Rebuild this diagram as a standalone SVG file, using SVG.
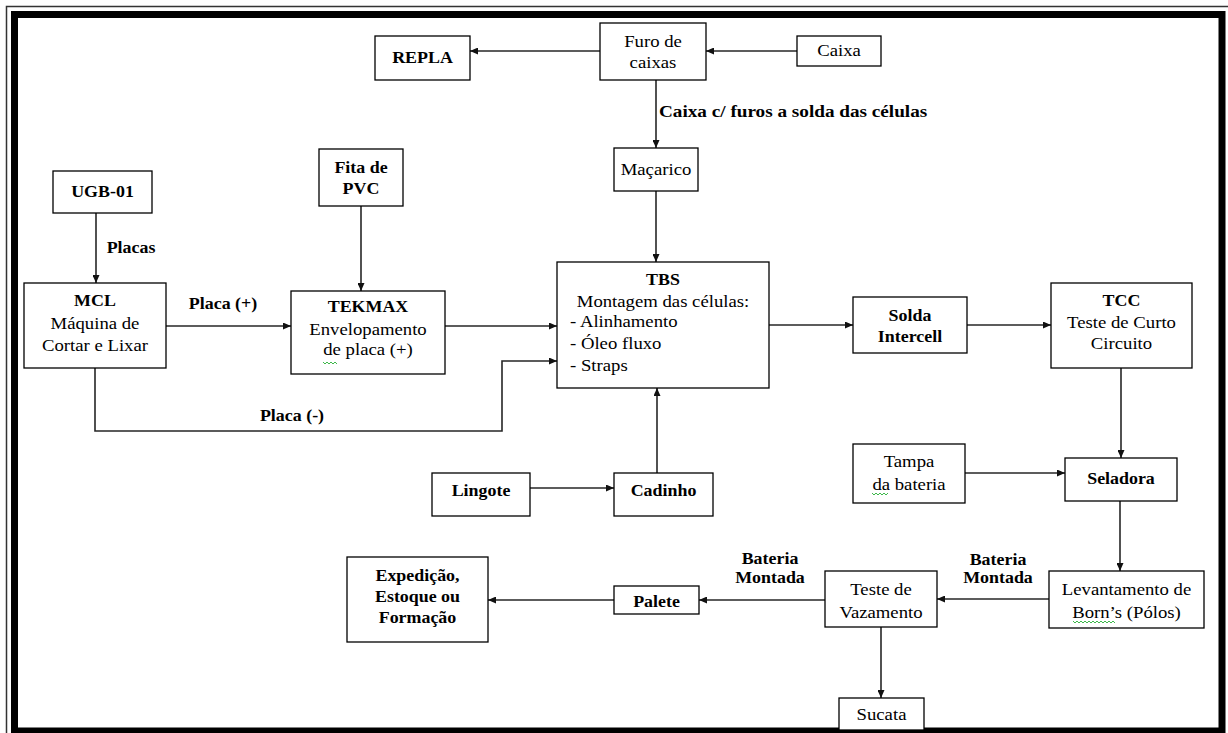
<svg xmlns="http://www.w3.org/2000/svg" width="1228" height="733" viewBox="0 0 1228 733">
  <style>
    text { font-family: "Liberation Serif", "Times New Roman", "DejaVu Serif", serif; font-size: 16px; fill: #000; text-anchor: middle; }
    .b { font-weight: bold; }
    .lft { text-anchor: start; }
    .box { fill: #fff; stroke: #000; stroke-width: 1.3; }
    .wire { fill: none; stroke: #262626; stroke-width: 1.6; }
    .squiggle { fill: none; stroke: #3db84a; stroke-width: 1; }
  </style>
  <defs>
    <marker id="arrow" markerUnits="userSpaceOnUse" markerWidth="8" markerHeight="7" refX="8" refY="3.5" orient="auto">
      <path d="M0,0 L8,3.5 L0,7 z" fill="#111"/>
    </marker>
  </defs>

  <rect x="0" y="0" width="1228" height="733" fill="#fff"/>

  <!-- page border: thin outer rule and heavy inner frame -->
  <path d="M6.5,733 V6.5 H1228" fill="none" stroke="#333" stroke-width="1.5"/>
  <rect x="14.5" y="14.5" width="1207.5" height="716.5" fill="none" stroke="#000" stroke-width="7"/>

  <!-- connectors -->
  <g id="connectors">
    <path class="wire" d="M797,51 H706" marker-end="url(#arrow)"/>
    <path class="wire" d="M600,51 H470" marker-end="url(#arrow)"/>
    <path class="wire" d="M656,80 V148" marker-end="url(#arrow)"/>
    <path class="wire" d="M656,191 V262" marker-end="url(#arrow)"/>
    <path class="wire" d="M96,213 V283" marker-end="url(#arrow)"/>
    <path class="wire" d="M361,206 V291" marker-end="url(#arrow)"/>
    <path class="wire" d="M166,326 H291" marker-end="url(#arrow)"/>
    <path class="wire" d="M445,326 H557" marker-end="url(#arrow)"/>
    <path class="wire" d="M95,361 V431 H502 V361 H557" marker-end="url(#arrow)"/>
    <path class="wire" d="M657,473 V388" marker-end="url(#arrow)"/>
    <path class="wire" d="M530,488 H614" marker-end="url(#arrow)"/>
    <path class="wire" d="M769,325 H853" marker-end="url(#arrow)"/>
    <path class="wire" d="M967,325 H1051" marker-end="url(#arrow)"/>
    <path class="wire" d="M1121,361 V458" marker-end="url(#arrow)"/>
    <path class="wire" d="M965,473 H1065" marker-end="url(#arrow)"/>
    <path class="wire" d="M1120,501 V571" marker-end="url(#arrow)"/>
    <path class="wire" d="M1049,599 H937" marker-end="url(#arrow)"/>
    <path class="wire" d="M825,600 H699" marker-end="url(#arrow)"/>
    <path class="wire" d="M614,600 H488" marker-end="url(#arrow)"/>
    <path class="wire" d="M881,627 V698" marker-end="url(#arrow)"/>
  </g>

  <!-- connector labels (type is set slightly wide, as in the printed chart) -->
  <g id="labels">
    <text class="b lft" transform="translate(659 0) scale(1.2 1)" x="0" y="117">Caixa c/ furos a solda das células</text>
    <text class="b" transform="translate(131 0) scale(1.12 1)" x="0" y="253">Placas</text>
    <text class="b" transform="translate(223 0) scale(1.12 1)" x="0" y="309">Placa (+)</text>
    <text class="b" transform="translate(292 0) scale(1.12 1)" x="0" y="421">Placa (-)</text>
    <text class="b" transform="translate(770 0) scale(1.12 1)"><tspan x="0" y="564">Bateria</tspan><tspan x="0" y="583">Montada</tspan></text>
    <text class="b" transform="translate(998 0) scale(1.12 1)"><tspan x="0" y="565">Bateria</tspan><tspan x="0" y="583">Montada</tspan></text>
  </g>

  <!-- nodes -->
  <g id="repla">
    <rect class="box" x="375" y="36" width="95" height="44"/>
    <text class="b" transform="translate(422.5 0) scale(1.12 1)" x="0" y="63">REPLA</text>
  </g>
  <g id="furo-caixas">
    <rect class="box" x="600" y="23" width="106" height="57"/>
    <text transform="translate(653 0) scale(1.17 1)"><tspan x="0" y="47">Furo de</tspan><tspan x="0" y="68">caixas</tspan></text>
  </g>
  <g id="caixa">
    <rect class="box" x="797" y="36" width="84" height="30"/>
    <text transform="translate(839 0) scale(1.17 1)" x="0" y="56">Caixa</text>
  </g>
  <g id="macarico">
    <rect class="box" x="614" y="148" width="84" height="43"/>
    <text transform="translate(656 0) scale(1.17 1)" x="0" y="175">Maçarico</text>
  </g>
  <g id="ugb01">
    <rect class="box" x="53" y="171" width="99" height="42"/>
    <text class="b" transform="translate(102.5 0) scale(1.12 1)" x="0" y="197">UGB-01</text>
  </g>
  <g id="fita-pvc">
    <rect class="box" x="319" y="149" width="84" height="57"/>
    <text class="b" transform="translate(361 0) scale(1.12 1)"><tspan x="0" y="173">Fita de</tspan><tspan x="0" y="194">PVC</tspan></text>
  </g>
  <g id="mcl">
    <rect class="box" x="24" y="283" width="142" height="85"/>
    <text class="b" transform="translate(95 0) scale(1.12 1)" x="0" y="306">MCL</text>
    <text transform="translate(95 0) scale(1.17 1)"><tspan x="0" y="329">Máquina de</tspan><tspan x="0" y="351">Cortar e Lixar</tspan></text>
  </g>
  <g id="tekmax">
    <rect class="box" x="291" y="291" width="154" height="83"/>
    <text class="b" transform="translate(368 0) scale(1.12 1)" x="0" y="312">TEKMAX</text>
    <text transform="translate(368 0) scale(1.17 1)"><tspan x="0" y="335">Envelopamento</tspan><tspan x="0" y="355">de placa (+)</tspan></text>
    <path class="squiggle" d="M323,362 l2,2 l2,-2 l2,2 l2,-2 l2,2 l2,-2 l2,2"/>
  </g>
  <g id="tbs">
    <rect class="box" x="557" y="262" width="212" height="126"/>
    <text class="b" transform="translate(663 0) scale(1.12 1)" x="0" y="285">TBS</text>
    <text transform="translate(663 0) scale(1.17 1)" x="0" y="307">Montagem das células:</text>
    <text class="lft" transform="translate(570 0) scale(1.17 1)"><tspan x="0" y="327">- Alinhamento</tspan><tspan x="0" y="349">- Óleo fluxo</tspan><tspan x="0" y="371">- Straps</tspan></text>
  </g>
  <g id="solda-intercell">
    <rect class="box" x="853" y="297" width="114" height="56"/>
    <text class="b" transform="translate(910 0) scale(1.12 1)"><tspan x="0" y="321">Solda</tspan><tspan x="0" y="342">Intercell</tspan></text>
  </g>
  <g id="tcc">
    <rect class="box" x="1051" y="283" width="141" height="85"/>
    <text class="b" transform="translate(1121.5 0) scale(1.12 1)" x="0" y="306">TCC</text>
    <text transform="translate(1121.5 0) scale(1.17 1)"><tspan x="0" y="328">Teste de Curto</tspan><tspan x="0" y="349">Circuito</tspan></text>
  </g>
  <g id="tampa">
    <rect class="box" x="853" y="444" width="112" height="59"/>
    <text transform="translate(909 0) scale(1.17 1)"><tspan x="0" y="467">Tampa</tspan><tspan x="0" y="490">da bateria</tspan></text>
    <path class="squiggle" d="M872,493 l2,2 l2,-2 l2,2 l2,-2 l2,2 l2,-2 l2,2 l2,-2"/>
  </g>
  <g id="seladora">
    <rect class="box" x="1065" y="458" width="112" height="43"/>
    <text class="b" transform="translate(1121 0) scale(1.12 1)" x="0" y="484">Seladora</text>
  </g>
  <g id="lingote">
    <rect class="box" x="432" y="473" width="98" height="43"/>
    <text class="b" transform="translate(481 0) scale(1.12 1)" x="0" y="496">Lingote</text>
  </g>
  <g id="cadinho">
    <rect class="box" x="614" y="473" width="99" height="43"/>
    <text class="b" transform="translate(663.5 0) scale(1.12 1)" x="0" y="496">Cadinho</text>
  </g>
  <g id="levantamento">
    <rect class="box" x="1049" y="571" width="155" height="57"/>
    <text transform="translate(1126.5 0) scale(1.17 1)"><tspan x="0" y="595">Levantamento de</tspan><tspan x="0" y="618">Born’s (Pólos)</tspan></text>
    <path class="squiggle" d="M1073,621 l2,2 l2,-2 l2,2 l2,-2 l2,2 l2,-2 l2,2 l2,-2 l2,2 l2,-2 l2,2 l2,-2 l2,2 l2,-2 l2,2 l2,-2 l2,2 l2,-2 l2,2 l2,-2 l2,2"/>
  </g>
  <g id="teste-vazamento">
    <rect class="box" x="825" y="571" width="112" height="56"/>
    <text transform="translate(881 0) scale(1.17 1)"><tspan x="0" y="595">Teste de</tspan><tspan x="0" y="618">Vazamento</tspan></text>
  </g>
  <g id="sucata">
    <rect class="box" x="839" y="698" width="85" height="32"/>
    <text transform="translate(881.5 0) scale(1.17 1)" x="0" y="720">Sucata</text>
  </g>
  <g id="palete">
    <rect class="box" x="614" y="586" width="85" height="28"/>
    <text class="b" transform="translate(656.5 0) scale(1.12 1)" x="0" y="607">Palete</text>
  </g>
  <g id="expedicao">
    <rect class="box" x="347" y="557" width="141" height="85"/>
    <text class="b" transform="translate(417.5 0) scale(1.12 1)"><tspan x="0" y="581">Expedição,</tspan><tspan x="0" y="602">Estoque ou</tspan><tspan x="0" y="623">Formação</tspan></text>
  </g>
</svg>
